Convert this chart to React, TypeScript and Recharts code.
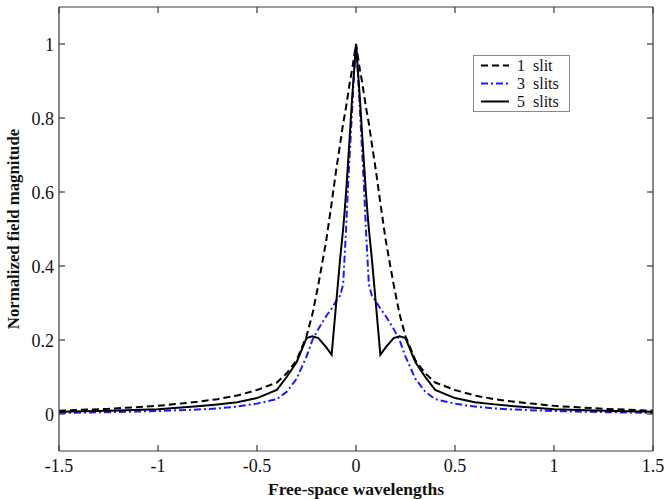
import React from 'react';
import { LineChart, Line, XAxis, YAxis, Legend } from 'recharts';

const xValues = [
  -1.5, -1.25, -1, -0.8, -0.7, -0.6, -0.5, -0.4, -0.35, -0.3, -0.25, -0.22, -0.19, -0.15, -0.123, -0.1,
  -0.08, -0.065, -0.06, -0.05, -0.04, -0.03, -0.02, -0.01, 0, 0.01, 0.02, 0.03, 0.04, 0.05, 0.06, 0.065,
  0.08, 0.1, 0.123, 0.15, 0.19, 0.22, 0.25, 0.3, 0.35, 0.4, 0.5, 0.6, 0.7, 0.8, 1, 1.25, 1.5,
];

const slit1 = [
  0.009, 0.014, 0.022, 0.033, 0.04, 0.05, 0.065, 0.085, 0.11, 0.145, 0.21, 0.27, 0.35, 0.47, 0.57, 0.66,
  0.73, 0.785, 0.8, 0.83, 0.865, 0.9, 0.93, 0.965, 1, 0.965, 0.93, 0.9, 0.865, 0.83, 0.8, 0.785,
  0.73, 0.66, 0.57, 0.47, 0.35, 0.27, 0.21, 0.145, 0.11, 0.085, 0.065, 0.05, 0.04, 0.033, 0.022, 0.014, 0.009,
];

const slit3 = [
  0.003, 0.005, 0.008, 0.012, 0.015, 0.02, 0.028, 0.04, 0.06, 0.095, 0.155, 0.2, 0.23, 0.265, 0.285, 0.305,
  0.32, 0.35, 0.4, 0.5, 0.62, 0.72, 0.82, 0.92, 1, 0.92, 0.82, 0.72, 0.62, 0.5, 0.4, 0.35,
  0.32, 0.305, 0.285, 0.265, 0.23, 0.2, 0.155, 0.095, 0.06, 0.04, 0.028, 0.02, 0.015, 0.012, 0.008, 0.005, 0.003,
];

const slit5 = [
  0.006, 0.009, 0.013, 0.021, 0.026, 0.032, 0.043, 0.065, 0.1, 0.14, 0.205, 0.21, 0.205, 0.18, 0.16, 0.3,
  0.42, 0.5, 0.53, 0.6, 0.68, 0.765, 0.85, 0.925, 1, 0.925, 0.85, 0.765, 0.68, 0.6, 0.53, 0.5,
  0.42, 0.3, 0.16, 0.18, 0.205, 0.21, 0.205, 0.14, 0.1, 0.065, 0.043, 0.032, 0.026, 0.021, 0.013, 0.009, 0.006,
];

const xTicks = [-1.5, -1, -0.5, 0, 0.5, 1, 1.5];
const yTicks = [0, 0.2, 0.4, 0.6, 0.8, 1];
const seriesKeys = ['s1', 's3', 's5'];
const seriesNames = ['1  slit', '3  slits', '5  slits'];
const seriesColors = ['#000000', '#1a1aff', '#000000'];
const seriesDashes = ['7 4', '7 3 2 3', undefined];

const xTitle = 'Free-space wavelengths';
const yTitle = 'Normalized field magnitude';

const data = xValues.map((x, i) => ({ x, s1: slit1[i], s3: slit3[i], s5: slit5[i] }));

const FONT = "'Liberation Serif', 'Times New Roman', serif";
const AXIS = '#3a3a3a';
const TL = 6;

const BottomTick = (props: any) => {
  const { x, y, payload } = props;
  return (
    <g>
      <line x1={x} y1={y} x2={x} y2={y - TL} stroke={AXIS} strokeWidth={1.2} />
      <text x={x} y={y + 21} textAnchor="middle" fontFamily={FONT} fontSize={18} fill="#111">
        {String(payload.value)}
      </text>
    </g>
  );
};

const TopTick = (props: any) => {
  const { x, y } = props;
  return <line x1={x} y1={y} x2={x} y2={y + TL} stroke={AXIS} strokeWidth={1.2} />;
};

const LeftTick = (props: any) => {
  const { x, y, payload } = props;
  return (
    <g>
      <line x1={x} y1={y} x2={x + TL} y2={y} stroke={AXIS} strokeWidth={1.2} />
      <text x={x - 5} y={y + 7} textAnchor="end" fontFamily={FONT} fontSize={18} fill="#111">
        {String(payload.value)}
      </text>
    </g>
  );
};

const RightTick = (props: any) => {
  const { x, y } = props;
  return <line x1={x} y1={y} x2={x - TL} y2={y} stroke={AXIS} strokeWidth={1.2} />;
};

const XTitle = (props: any) => {
  const vb = props.viewBox || { x: 59, y: 451, width: 594, height: 48 };
  return (
    <text x={vb.x + vb.width / 2} y={vb.y + 44} textAnchor="middle" fontFamily={FONT} fontSize={17.5} fontWeight="bold" fill="#111">
      {xTitle}
    </text>
  );
};

const YTitle = (props: any) => {
  const vb = props.viewBox || { x: 0, y: 7, width: 59, height: 444 };
  const cx = 19;
  const cy = vb.y + vb.height / 2;
  return (
    <text x={cx} y={cy} transform={`rotate(-90 ${cx} ${cy})`} textAnchor="middle" fontFamily={FONT} fontSize={16.8} fontWeight="bold" fill="#111">
      {yTitle}
    </text>
  );
};

const LegendBox = () => (
  <svg width={97} height={57} style={{ display: 'block' }}>
    <rect x={0.5} y={0.5} width={96} height={56} fill="#fff" stroke="#8a8a8a" strokeWidth={1} />
    {seriesNames.map((name, i) => {
      const cy = 10.5 + i * 18;
      return (
        <g key={name}>
          <line x1={8} y1={cy} x2={36} y2={cy} stroke={seriesColors[i]} strokeWidth={2} strokeDasharray={seriesDashes[i]} />
          <text x={44} y={cy + 5.5} fontFamily={FONT} fontSize={16} fill="#111" style={{ whiteSpace: 'pre' }}>
            {name}
          </text>
        </g>
      );
    })}
  </svg>
);

export default function App() {
  return (
    <div style={{ position: 'absolute', left: 0, top: 0, background: '#fff' }}>
      <LineChart width={665} height={499} data={data} margin={{ top: 6, right: 11, left: 0, bottom: 0 }}>
        <XAxis
          dataKey="x"
          type="number"
          domain={[-1.5, 1.5]}
          ticks={xTicks}
          allowDataOverflow
          height={48}
          tickSize={0}
          tickMargin={0}
          tickLine={false}
          tick={<BottomTick />}
          axisLine={{ stroke: AXIS, strokeWidth: 1.2 }}
          interval={0}
          label={<XTitle />}
        />
        <XAxis
          xAxisId="top"
          orientation="top"
          dataKey="x"
          type="number"
          domain={[-1.5, 1.5]}
          ticks={xTicks}
          allowDataOverflow
          height={1}
          tickSize={0}
          tickMargin={0}
          tickLine={false}
          tick={<TopTick />}
          axisLine={{ stroke: AXIS, strokeWidth: 1.2 }}
          interval={0}
        />
        <YAxis
          type="number"
          domain={[-0.1, 1.1]}
          ticks={yTicks}
          allowDataOverflow
          width={59}
          tickSize={0}
          tickMargin={0}
          tickLine={false}
          tick={<LeftTick />}
          axisLine={{ stroke: AXIS, strokeWidth: 1.2 }}
          interval={0}
          label={<YTitle />}
        />
        <YAxis
          yAxisId="right"
          orientation="right"
          type="number"
          domain={[-0.1, 1.1]}
          ticks={yTicks}
          allowDataOverflow
          width={1}
          tickSize={0}
          tickMargin={0}
          tickLine={false}
          tick={<RightTick />}
          axisLine={{ stroke: AXIS, strokeWidth: 1.2 }}
          interval={0}
        />
        {seriesKeys.map((k, i) => (
          <Line
            key={k}
            type="linear"
            dataKey={k}
            name={seriesNames[i]}
            stroke={seriesColors[i]}
            strokeWidth={2}
            strokeDasharray={seriesDashes[i]}
            dot={false}
            activeDot={false}
            isAnimationActive={false}
          />
        ))}
        <Legend
          layout="vertical"
          align="center"
          verticalAlign="middle"
          width={97}
          wrapperStyle={{ position: 'absolute', left: 473, top: 55, width: 97, height: 57 }}
          content={() => <LegendBox />}
        />
      </LineChart>
    </div>
  );
}
